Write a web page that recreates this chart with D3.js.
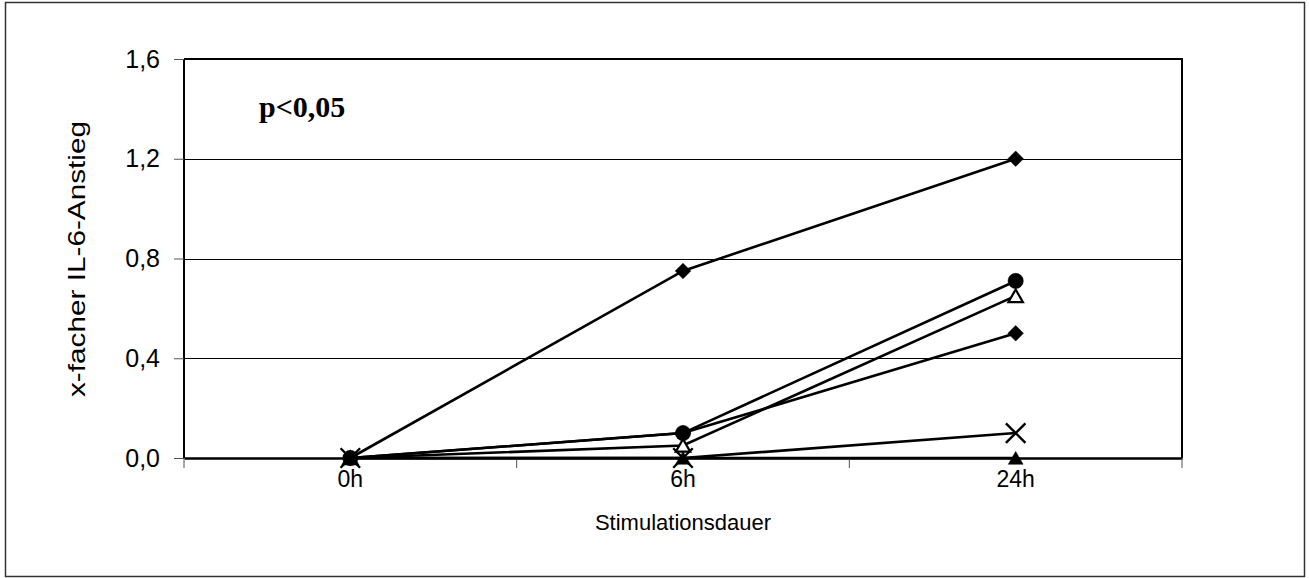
<!DOCTYPE html>
<html>
<head>
<meta charset="utf-8">
<script src="https://cdn.jsdelivr.net/npm/d3@7"></script>
<style>
  body { margin: 0; background: #fff; }
  svg { display: block; }
</style>
</head>
<body>
<svg width="1309" height="578"></svg>
<script>
// Stimulationsdauer -> x-facher IL-6-Anstieg
var categories = ["0h", "6h", "24h"];
var yTicks = [0, 0.4, 0.8, 1.2, 1.6];

var diamondHigh = [0, 0.75, 1.2];
var circleSeries = [0, 0.1, 0.71];
var openTriangle = [0, 0.05, 0.65];
var diamondLow = [0, 0.1, 0.5];
var crossSeries = [0, 0, 0.1];
var filledTriangle = [0, 0, 0];

var series = [
  { name: "diamondHigh", values: diamondHigh, marker: "diamond" },
  { name: "diamondLow", values: diamondLow, marker: "diamond" },
  { name: "crossSeries", values: crossSeries, marker: "cross" },
  { name: "filledTriangle", values: filledTriangle, marker: "triangle" },
  { name: "openTriangle", values: openTriangle, marker: "openTriangle" },
  { name: "circleSeries", values: circleSeries, marker: "circle" }
];

var svg = d3.select("svg"),
    width = +svg.attr("width"),
    height = +svg.attr("height");

var plot = { left: 184, right: 1182, top: 59, bottom: 458 };
var sans = "Arial, 'Liberation Sans', sans-serif";

// outer frame
svg.append("rect")
    .attr("x", 5.5).attr("y", 2.5)
    .attr("width", 1299).attr("height", 574)
    .attr("fill", "none")
    .attr("stroke", "#333")
    .attr("stroke-width", 1.5);

var x = d3.scaleBand()
    .domain(categories)
    .range([plot.left, plot.right]);

var y = d3.scaleLinear()
    .domain([0, 1.6])
    .range([plot.bottom, plot.top]);

var fmt = function(d) { return d3.format(".1f")(d).replace(".", ","); };

// gridlines
svg.append("g")
    .selectAll("line")
    .data(yTicks.filter(function(d) { return d > 0 && d < 1.6; }))
    .enter().append("line")
      .attr("x1", plot.left).attr("x2", plot.right)
      .attr("y1", function(d) { return Math.round(y(d)) + 0.5; })
      .attr("y2", function(d) { return Math.round(y(d)) + 0.5; })
      .attr("stroke", "#000")
      .attr("stroke-width", 1);

// plot frame (top + right)
svg.append("path")
    .attr("d", "M" + plot.left + "," + plot.top + "H" + plot.right + "V" + plot.bottom)
    .attr("fill", "none")
    .attr("stroke", "#000")
    .attr("stroke-width", 2);

// y axis
var yAxis = svg.append("g")
    .attr("transform", "translate(" + plot.left + ",0)")
    .call(d3.axisLeft(y).tickValues(yTicks).tickFormat(fmt).tickSize(10).tickPadding(14));
yAxis.select(".domain").attr("stroke", "#000").attr("stroke-width", 2)
    .attr("d", "M0," + plot.top + "V" + plot.bottom);
yAxis.selectAll(".tick line").attr("stroke", "#555").attr("stroke-width", 1);
yAxis.selectAll("text")
    .attr("font-family", sans)
    .attr("font-size", 25)
    .attr("fill", "#000");

// x axis
var xAxis = svg.append("g")
    .attr("transform", "translate(0," + plot.bottom + ")")
    .call(d3.axisBottom(x).tickSize(0).tickPadding(13));
xAxis.select(".domain").attr("stroke", "#000").attr("stroke-width", 2.5);
xAxis.selectAll("text")
    .attr("font-family", sans)
    .attr("font-size", 23)
    .attr("fill", "#000");

// category boundary ticks
var bounds = categories.map(function(c) { return x(c); }).concat([plot.right]);
svg.append("g")
    .selectAll("line")
    .data(bounds)
    .enter().append("line")
      .attr("x1", function(d) { return d; }).attr("x2", function(d) { return d; })
      .attr("y1", plot.bottom).attr("y2", plot.bottom + 10)
      .attr("stroke", "#555")
      .attr("stroke-width", 1);

var cx = function(i) { return x(categories[i]) + x.bandwidth() / 2; };

// lines
var line = d3.line()
    .x(function(d, i) { return cx(i); })
    .y(function(d) { return y(d); });

svg.append("g")
    .selectAll("path")
    .data(series)
    .enter().append("path")
      .attr("d", function(d) { return line(d.values); })
      .attr("fill", "none")
      .attr("stroke", "#000")
      .attr("stroke-width", 2.6);

// markers
var symbols = {
  diamond: d3.symbol().type(d3.symbolDiamond2).size(155),
  circle: d3.symbol().type(d3.symbolCircle).size(185),
  triangle: d3.symbol().type(d3.symbolTriangle).size(95),
  openTriangle: d3.symbol().type(d3.symbolTriangle2).size(150),
  cross: d3.symbol().type(d3.symbolX).size(250)
};

series.forEach(function(s) {
  svg.append("g")
      .selectAll("path")
      .data(s.values)
      .enter().append("path")
        .attr("transform", function(d, i) {
          var dy = (s.marker === "triangle" || s.marker === "openTriangle") ? 2 : 0;
          return "translate(" + cx(i) + "," + (y(d) + dy) + ")";
        })
        .attr("d", symbols[s.marker]())
        .attr("fill", s.marker === "openTriangle" ? "#fff" : (s.marker === "cross" ? "none" : "#000"))
        .attr("stroke", "#000")
        .attr("stroke-width", s.marker === "openTriangle" ? 2.2 : (s.marker === "cross" ? 2.4 : 0.5));
});

// labels
svg.append("text")
    .attr("x", (plot.left + plot.right) / 2)
    .attr("y", 530)
    .attr("text-anchor", "middle")
    .attr("font-family", sans)
    .attr("font-size", 22)
    .text("Stimulationsdauer");

svg.append("text")
    .attr("transform", "translate(85," + 259 + ") rotate(-90)")
    .attr("text-anchor", "middle")
    .attr("font-family", sans)
    .attr("font-size", 24)
    .attr("textLength", 276)
    .attr("lengthAdjust", "spacingAndGlyphs")
    .text("x-facher IL-6-Anstieg");

svg.append("text")
    .attr("x", 259)
    .attr("y", 117)
    .attr("font-family", "'Times New Roman', 'Liberation Serif', serif")
    .attr("font-weight", "bold")
    .attr("font-size", 30)
    .text("p<0,05");
</script>
</body>
</html>
